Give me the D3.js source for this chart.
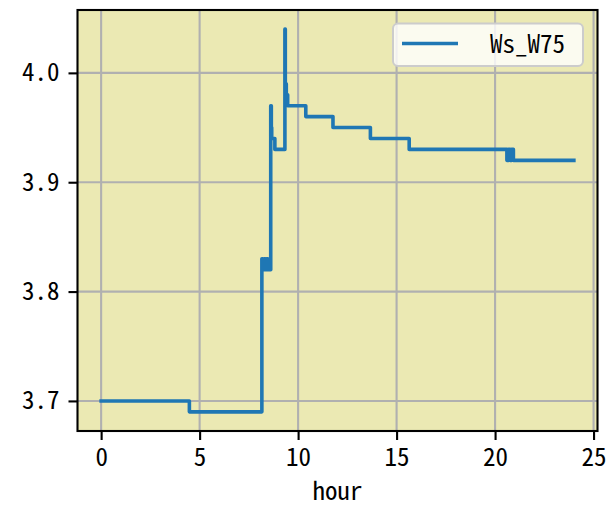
<!DOCTYPE html>
<html>
<head>
<meta charset="utf-8">
<script src="https://cdn.jsdelivr.net/npm/d3@7"></script>
<style>
  html, body { margin: 0; padding: 0; background: #ffffff; }
  svg { display: block; }
  text { font-family: "Noto Sans Mono CJK JP", "Noto Sans CJK JP", "DejaVu Sans", sans-serif; fill: #000; }
</style>
</head>
<body>
<svg id="chart" width="609" height="512"></svg>
<script>
// ---- data ----
const hours = [0, 4.48, 8.16, 8.22, 8.28, 8.34, 8.40, 8.46, 8.52, 8.58, 8.61, 8.64, 8.66, 8.82, 9.33, 9.35, 9.40, 9.47, 10.39, 11.77, 13.67, 15.64, 20.60, 20.68, 20.76, 20.84, 20.93, 24.0];
const wsW75 = [3.70, 3.69, 3.83, 3.82, 3.83, 3.82, 3.83, 3.82, 3.83, 3.82, 3.97, 3.95, 3.94, 3.93, 4.04, 3.99, 3.98, 3.97, 3.96, 3.95, 3.94, 3.93, 3.92, 3.93, 3.92, 3.93, 3.92, 3.92];
const seriesName = "Ws_W75";
const xTicks = [0, 5, 10, 15, 20, 25];
const yTicks = [3.7, 3.8, 3.9, 4.0];
const xLabel = "hour";

// ---- layout ----
const svg = d3.select("#chart");
const plot = { left: 77.5, right: 597.5, top: 10, bottom: 431 };

const xMin = d3.min(hours), xMax = d3.max(hours);
const yMin = d3.min(wsW75), yMax = d3.max(wsW75);
const xPad = (xMax - xMin) * 0.05, yPad = (yMax - yMin) * 0.05;

const x = d3.scaleLinear().domain([xMin - xPad, xMax + xPad]).range([plot.left, plot.right]);
const y = d3.scaleLinear().domain([yMin - yPad, yMax + yPad]).range([plot.bottom, plot.top]);

// background
svg.append("rect")
  .attr("x", plot.left).attr("y", plot.top)
  .attr("width", plot.right - plot.left).attr("height", plot.bottom - plot.top)
  .attr("fill", "#ebe9b3");

// grid
const grid = svg.append("g");
grid.selectAll("line.gx").data(xTicks.filter(t => x(t) <= plot.right)).join("line")
  .attr("x1", d => x(d)).attr("x2", d => x(d))
  .attr("y1", plot.top).attr("y2", plot.bottom)
  .attr("stroke", "#b0b0b0").attr("stroke-width", 2.1);
grid.selectAll("line.gy").data(yTicks).join("line")
  .attr("x1", plot.left).attr("x2", plot.right)
  .attr("y1", d => y(d)).attr("y2", d => y(d))
  .attr("stroke", "#b0b0b0").attr("stroke-width", 2.1);

// line
const pts = hours.map((h, i) => [h, wsW75[i]]);
svg.append("path")
  .datum(pts)
  .attr("fill", "none")
  .attr("stroke", "#1f77b4")
  .attr("stroke-width", 3.6)
  .attr("stroke-linejoin", "round")
  .attr("stroke-linecap", "square")
  .attr("d", d3.line().x(d => x(d[0])).y(d => y(d[1])).curve(d3.curveStepAfter));

// axes
const fontSize = 25;
const xAxis = d3.axisBottom(x).tickValues(xTicks).tickFormat(d3.format("d")).tickSize(9).tickPadding(8);
const yAxis = d3.axisLeft(y).tickValues(yTicks).tickFormat(d3.format(".1f")).tickSize(9).tickPadding(9);

const gx = svg.append("g").attr("transform", `translate(0,${plot.bottom})`).call(xAxis);
const gy = svg.append("g").attr("transform", `translate(${plot.left},0)`).call(yAxis);
[gx, gy].forEach(g => {
  g.select(".domain").remove();
  g.selectAll(".tick line").attr("stroke", "#000").attr("stroke-width", 2.1);
  g.selectAll(".tick text").attr("font-size", fontSize).attr("fill", "#000")
    .style("font-family", '"Noto Sans Mono CJK JP", "Noto Sans CJK JP", sans-serif');
});

// spines
svg.append("rect")
  .attr("x", plot.left).attr("y", plot.top)
  .attr("width", plot.right - plot.left).attr("height", plot.bottom - plot.top)
  .attr("fill", "none").attr("stroke", "#000").attr("stroke-width", 2.1);

// x label
svg.append("text")
  .attr("x", (plot.left + plot.right) / 2)
  .attr("y", 500)
  .attr("text-anchor", "middle")
  .attr("font-size", fontSize)
  .text(xLabel);

// legend
const lg = svg.append("g");
lg.append("rect")
  .attr("x", 393).attr("y", 23.5).attr("width", 190).attr("height", 42.5)
  .attr("rx", 5).attr("ry", 5)
  .attr("fill", "rgba(255,255,255,0.8)")
  .attr("stroke", "#cccccc").attr("stroke-width", 2);
lg.append("line")
  .attr("x1", 402).attr("x2", 458).attr("y1", 43.5).attr("y2", 43.5)
  .attr("stroke", "#1f77b4").attr("stroke-width", 3.6);
lg.append("text")
  .attr("x", 490).attr("y", 52.5)
  .attr("font-size", fontSize)
  .text(seriesName);
</script>
</body>
</html>
